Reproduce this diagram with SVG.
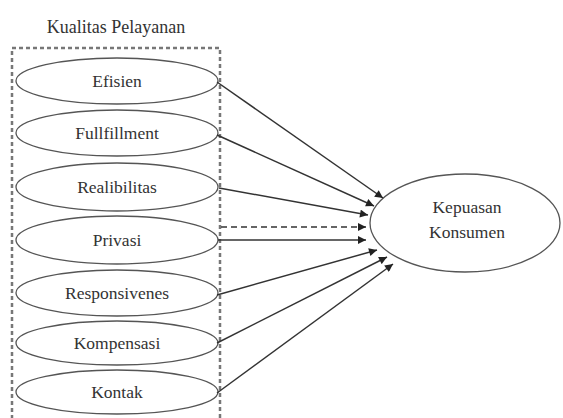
<svg xmlns="http://www.w3.org/2000/svg" width="563" height="418" viewBox="0 0 563 418">
<style>
.e{fill:#fff;stroke:#555;stroke-width:1.3}
.c{stroke:#333;stroke-width:1.5;fill:none;marker-end:url(#ah)}
</style>
<defs>
<marker id="ah" viewBox="0 0 10 10" refX="10" refY="5" markerWidth="10" markerHeight="8" markerUnits="userSpaceOnUse" orient="auto">
<path d="M0,0 L10,5 L0,10 z" fill="#222"/>
</marker>
</defs>
<rect width="563" height="418" fill="#fff"/>
<g font-family="Liberation Serif, Times New Roman, serif" font-size="17.5" fill="#333" text-anchor="middle" dominant-baseline="central">
<text x="116" y="27" font-size="18">Kualitas Pelayanan</text>
<rect id="box" x="12" y="48" width="208" height="380" fill="none" stroke="#777" stroke-width="2.5" stroke-dasharray="4 3"/>
<g id="n1"><ellipse class="e" cx="117" cy="81" rx="101" ry="23"/><text x="117" y="81">Efisien</text></g>
<g id="n2"><ellipse class="e" cx="117" cy="133" rx="101" ry="23"/><text x="117" y="133">Fullfillment</text></g>
<g id="n3"><ellipse class="e" cx="117" cy="187" rx="101" ry="24"/><text x="117" y="187">Realibilitas</text></g>
<g id="n4"><ellipse class="e" cx="117" cy="240" rx="101" ry="24"/><text x="117" y="240">Privasi</text></g>
<g id="n5"><ellipse class="e" cx="117" cy="293" rx="101" ry="23"/><text x="117" y="293">Responsivenes</text></g>
<g id="n6"><ellipse class="e" cx="117" cy="343" rx="101" ry="22"/><text x="117" y="343">Kompensasi</text></g>
<g id="n7"><ellipse class="e" cx="117" cy="392" rx="101" ry="22"/><text x="117" y="392">Kontak</text></g>
<g id="target"><ellipse class="e" cx="465" cy="223" rx="95" ry="49"/><text x="467" y="207">Kepuasan</text><text x="467" y="232">Konsumen</text></g>
</g>
<g id="connectors">
<line class="c" x1="217" y1="82" x2="383" y2="198"/>
<line class="c" x1="217" y1="135" x2="374" y2="206"/>
<line class="c" x1="219" y1="188" x2="368" y2="215"/>
<line class="c" x1="221" y1="227" x2="366" y2="227" stroke-dasharray="6 4"/>
<line class="c" x1="218" y1="240" x2="366" y2="240"/>
<line class="c" x1="217" y1="295" x2="377" y2="250"/>
<line class="c" x1="217" y1="343" x2="387" y2="257"/>
<line class="c" x1="217" y1="393" x2="393" y2="264"/>
</g>
</svg>
